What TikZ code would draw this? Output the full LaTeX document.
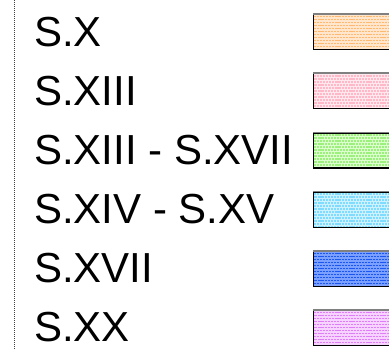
\documentclass[tikz,border=0pt]{standalone}
\usepackage{fontspec}
\setmainfont{Liberation Sans}
\definecolor{cOr}{HTML}{FFB870}\definecolor{tOr}{HTML}{FFE6CC}
\definecolor{cPk}{HTML}{FFB8C8}\definecolor{tPk}{HTML}{FFE8EE}
\definecolor{cGr}{HTML}{9CF07C}\definecolor{tGr}{HTML}{DDFFD0}
\definecolor{cCy}{HTML}{80DCFF}\definecolor{tCy}{HTML}{D0F2FF}
\definecolor{cBl}{HTML}{1A56F0}\definecolor{tBl}{HTML}{7CA0FF}
\definecolor{cVi}{HTML}{E07CF8}\definecolor{tVi}{HTML}{F6D4FF}
\tikzset{
  lbl/.style={anchor=base west, inner sep=0pt, font=\fontsize{42}{42}\selectfont},
  swatch/.style n args={2}{draw=black, line width=1.2pt, inner sep=0pt,
    minimum width=80pt, minimum height=35pt, anchor=north west, fill=#2,
    path picture={
      \foreach \k in {0,...,11}{
        \draw[#1, line width=1.6pt, dash pattern=on 2.2pt off 0.9pt,
          dash phase={mod(\k,2)*1.5pt}]
          ([yshift=-2pt-\k*3pt]path picture bounding box.north west) --
          ([yshift=-2pt-\k*3pt]path picture bounding box.north east);
      }
    }},
  topedge/.style={draw=gray, line width=1.6pt},
  axisline/.style={draw=black!75, line width=1pt, dash pattern=on 1pt off 1pt}
}
\begin{document}
\begin{tikzpicture}[x=1pt,y=-1pt]
\useasboundingbox (0,0) rectangle (389,350);
\clip (0,0) rectangle (389,350);
\coordinate (axtop) at (14,0);
\coordinate (axbot) at (14,350);
\draw[axisline] (axtop) -- (axbot);
\foreach \i/\txt/\c/\t in {0/S.X/cOr/tOr, 1/S.XIII/cPk/tPk, 2/S.XIII - S.XVII/cGr/tGr,
  3/S.XIV - S.XV/cCy/tCy, 4/S.XVII/cBl/tBl, 5/S.XX/cVi/tVi}{
  \node[lbl] (l\i) at (34,{47+59*\i}) {\txt};
  \node[swatch={\c}{\t}] (s\i) at (313,{14+59.2*\i}) {};
  \draw[topedge] (s\i.north west) -- (s\i.north east);
}
\end{tikzpicture}
\end{document}
